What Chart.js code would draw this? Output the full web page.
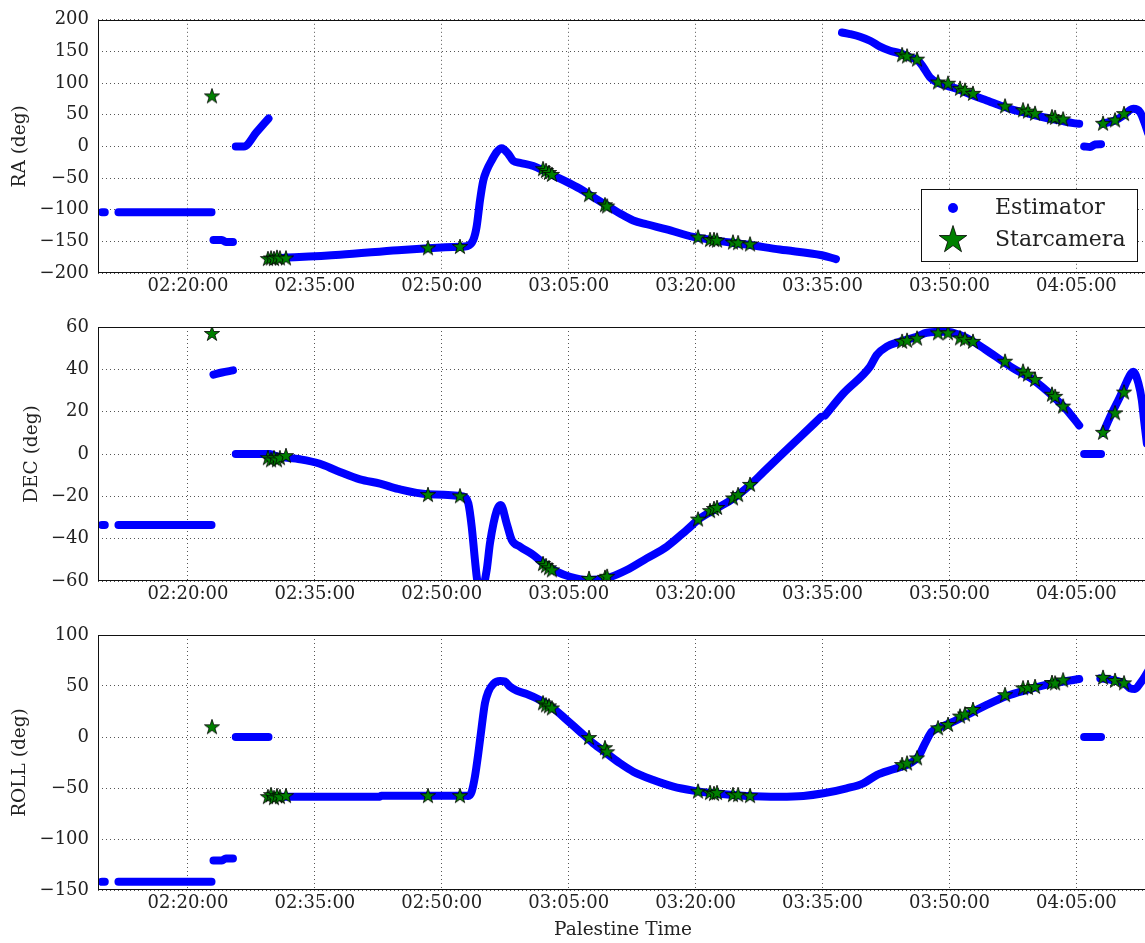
<!DOCTYPE html>
<html>
<head>
<meta charset="utf-8">
<script src="https://cdn.jsdelivr.net/npm/chart.js@4/dist/chart.umd.min.js"></script>
<style>
  html, body { margin: 0; padding: 0; background: #fff; overflow: hidden; }
  #stage { position: relative; width: 1145px; height: 943px; overflow: hidden; }
  #stage canvas { position: absolute; left: 0; }
</style>
</head>
<body>
<div id="stage">
  <canvas id="raChart" width="1150" height="303" style="top:0px;width:1150px;height:303px"></canvas>
  <canvas id="decChart" width="1150" height="308" style="top:303px;width:1150px;height:308px"></canvas>
  <canvas id="rollChart" width="1150" height="332" style="top:611px;width:1150px;height:332px"></canvas>
</div>
<script>
// ---- time axis ----
const xRange = ["02:09:22", "04:13:28"];
const xTickLabels = ["02:20:00", "02:35:00", "02:50:00", "03:05:00", "03:20:00", "03:35:00", "03:50:00", "04:05:00"];

// ---- y ticks per panel ----
const raTicks = [-200, -150, -100, -50, 0, 50, 100, 150, 200];
const decTicks = [-60, -40, -20, 0, 20, 40, 60];
const rollTicks = [-150, -100, -50, 0, 50, 100];

// ---- estimator, RA (null = break between track pieces) ----
const raEstTime = [
  "02:09:50", "02:10:10", null,
  "02:11:47", "02:22:47", null,
  "02:23:01", "02:24:01", "02:24:29", "02:25:19", null,
  "02:25:39", "02:26:37", "02:28:05", "02:29:31", null,
  "02:29:55", "02:37:58", "02:44:49", "02:48:22", "02:52:09", "02:53:01", "02:53:43", "02:54:07",
  "02:54:31", "02:54:54", "02:55:18", "02:55:54", "02:56:29", "02:57:05", "02:57:52", "02:58:27",
  "02:59:15", "03:00:49", "03:02:00", "03:03:11", "03:04:46", "03:06:20", "03:07:54", "03:09:29",
  "03:11:04", "03:12:38", "03:14:13", "03:16:35", "03:19:44", "03:22:05", "03:26:02", "03:29:58",
  "03:34:56", "03:36:35", null,
  "03:37:18", "03:38:15", "03:39:26", "03:40:37", "03:41:48", "03:42:59", "03:44:10", "03:45:20",
  "03:46:19", "03:46:55", "03:47:42", "03:48:30", "03:49:41", "03:51:15", "03:52:49", "03:54:24",
  "03:55:59", "03:57:33", "03:59:08", "04:01:06", "04:03:04", "04:04:39", "04:05:20", null,
  "04:05:55", "04:06:37", "04:07:12", "04:07:55", null,
  "04:08:05", "04:09:34", "04:10:33", "04:11:21", "04:11:44", "04:12:32", "04:13:02", "04:13:30"
];
const raEstValue = [
  -104, -104, null,
  -104, -104, null,
  -148, -148, -151, -151, null,
  0, 0, 22, 44, null,
  -177, -171, -164, -161, -158.6, -157.5, -148, -127,
  -85, -54, -38, -22, -9, -3, -12, -23,
  -26, -31, -38, -46, -56, -67, -80, -93,
  -106, -117, -123, -131, -143, -148, -155, -163,
  -172, -178, null,
  180, 177.4, 173.2, 166.9, 157.5, 151.2, 147, 140.7,
  135.4, 124.9, 109.1, 101.3, 96, 89.2, 80.3, 72.4,
  64.6, 57.8, 52.5, 46.1, 41, 36.7, 35.7, null,
  0, -1, 3, 3.5, null,
  36, 41, 48.8, 57.7, 59.3, 54, 38.3, 20
];

// ---- estimator, DEC ----
const decEstTime = [
  "02:09:50", "02:10:10", null,
  "02:11:47", "02:22:47", null,
  "02:23:01", "02:24:01", "02:25:19", null,
  "02:25:39", "02:29:42", "02:30:24", "02:33:14", "02:35:30", "02:37:40", "02:40:20", "02:42:42",
  "02:44:49", "02:48:22", "02:52:30", "02:53:08", "02:53:32", "02:53:55", "02:54:12", "02:54:45",
  "02:55:18", "02:55:42", "02:56:31", "02:56:58", "02:57:40", "02:58:16", "02:59:15", "03:00:49",
  "03:02:00", "03:03:35", "03:05:09", "03:07:08", "03:09:29", "03:11:51", "03:14:13", "03:16:35",
  "03:18:57", "03:20:31", "03:22:30", "03:24:27", "03:26:26", "03:28:00", "03:29:58", "03:32:20",
  "03:34:50", null,
  "03:35:18", "03:37:27", "03:40:37", "03:41:24", "03:42:35", "03:44:10", "03:46:08", "03:47:19",
  "03:49:41", "03:51:15", "03:52:49", "03:55:11", "03:57:33", "03:59:55", "04:02:17", "04:03:52",
  "04:05:20", null,
  "04:05:55", "04:07:55", null,
  "04:08:09", "04:09:11", "04:10:10", "04:10:57", "04:11:28", "04:11:44", "04:12:20", "04:12:44",
  "04:13:00", "04:13:20"
];
const decEstValue = [
  -33.5, -33.5, null,
  -33.5, -33.5, null,
  37.5, 38.5, 39.5, null,
  0, 0, -1, -2.5, -4.5, -8, -12, -14,
  -16.5, -19, -20, -23.3, -34.3, -50, -60, -64,
  -55, -42, -26.5, -24.1, -32.8, -40.6, -43.8, -47.7,
  -51.6, -55.6, -58, -59.5, -58.7, -54.8, -49.3, -43.8,
  -35.9, -30.4, -25.7, -21, -14.6, -8.6, -1, 8,
  17.5, null,
  18.2, 28.6, 41.3, 46.8, 50.7, 53.1, 55.4, 57.3,
  57.8, 56.2, 53.1, 46.8, 40.5, 35, 27.1, 20.8,
  13.5, null,
  0, 0, null,
  10, 19.2, 27.1, 34.2, 38.1, 38.9, 33.4, 25.5,
  16, 5
];

// ---- estimator, ROLL ----
const rollEstTime = [
  "02:09:50", "02:10:10", null,
  "02:11:47", "02:22:47", null,
  "02:23:01", "02:24:01", "02:24:29", "02:25:19", null,
  "02:25:39", "02:29:31", null,
  "02:29:55", "02:42:42", "02:42:50", "02:52:50", "02:53:08", "02:53:32", "02:53:55", "02:54:19",
  "02:54:43", "02:55:06", "02:55:30", "02:56:05", "02:56:53", "02:57:28", "02:58:04", "02:58:51",
  "03:00:02", "03:01:36", "03:03:11", "03:04:46", "03:06:20", "03:07:54", "03:09:29", "03:11:04",
  "03:12:38", "03:15:00", "03:17:22", "03:19:44", "03:22:05", "03:26:02", "03:29:58", "03:32:44",
  "03:35:06", "03:37:51", "03:39:49", "03:41:24", "03:43:22", "03:45:20", "03:46:19", "03:47:07",
  "03:47:54", "03:49:05", "03:50:28", "03:52:03", "03:54:24", "03:56:46", "03:59:08", "04:01:53",
  "04:04:39", "04:05:20", null,
  "04:05:55", "04:07:55", null,
  "04:07:50", "04:09:11", "04:10:45", "04:11:21", "04:11:56", "04:12:32", "04:13:02", "04:13:30"
];
const rollEstValue = [
  -142, -142, null,
  -142, -142, null,
  -121, -121, -119, -119, null,
  0, 0, null,
  -58.5, -58.5, -57.5, -57.5, -57.8, -53.6, -38.9, -16,
  10.1, 33, 44.4, 52, 54.9, 54.3, 49.3, 45.4,
  42.2, 36.3, 28.1, 16.7, 5.2, -6.2, -16, -25.8,
  -34, -42.2, -48.7, -52.6, -55.2, -57.8, -58.5, -57.8,
  -55.2, -50.3, -45.4, -37.3, -31.7, -25.8, -19.3, -6.2,
  5.2, 10.1, 15, 21.6, 31.4, 40.2, 46.1, 52,
  55.9, 56.9, null,
  0, 0, null,
  57.5, 55.9, 52, 47.7, 47, 52.6, 58.5, 65
];

// ---- star camera solutions (shared timestamps) ----
const starTime = [
  "02:22:50", "02:29:27", "02:29:49", "02:30:10", "02:30:31", "02:30:52", "02:31:35",
  "02:48:22", "02:52:09",
  "03:01:58", "03:02:19", "03:02:40", "03:03:01",
  "03:07:24", "03:09:17", "03:09:32",
  "03:20:17", "03:21:42", "03:22:10", "03:22:32", "03:24:25", "03:25:01", "03:26:26",
  "03:44:24", "03:44:59", "03:46:10",
  "03:48:39", "03:49:50", "03:51:15", "03:51:50", "03:52:47",
  "03:56:34", "03:58:42", "03:59:17", "04:00:07", "04:02:07", "04:02:29", "04:03:26",
  "04:08:09", "04:09:34", "04:10:38"
];
const raStar = [
  79, -178, -177, -178, -176, -177, -177,
  -161, -159,
  -36, -39, -42, -45,
  -77, -93, -95,
  -144, -148, -148, -149, -152, -153, -155,
  144, 142, 137,
  101, 99, 91, 88, 83,
  63, 57, 55, 51.5, 46, 45, 42.5,
  35.7, 41, 51
];
const decStar = [
  56.7, -2, -3, -2, -3, -2, -1,
  -19.4, -20,
  -52, -53, -54, -55,
  -59, -58.5, -58,
  -31, -27, -26, -25.5, -21, -19.4, -14.6,
  53, 53.5, 54.5,
  57, 57, 54.6, 54, 53,
  43.6, 38.9, 37.5, 35, 28, 27, 22.4,
  10, 19.2, 29
];
const rollStar = [
  9.5, -59, -57, -60, -58, -59, -58,
  -58, -58,
  33, 31, 30, 28,
  -1, -11, -15,
  -53.6, -55, -56, -55, -57, -57, -58,
  -27.5, -26, -21,
  8.5, 11.8, 20, 22, 26.5,
  41, 47.7, 48, 49, 53, 52.5, 55.5,
  58, 55, 52.6
];

// ---- helpers ----
const SERIF = "'DejaVu Serif', 'Liberation Serif', serif";
const TEXT = '#222';

function toMin(s) {
  const p = s.split(':').map(Number);
  return p[0] * 60 + p[1] + p[2] / 60;
}
function clock(v) {
  const t = Math.round(v * 60);
  const h = Math.floor(t / 3600), m = Math.floor((t % 3600) / 60), s = t % 60;
  return [h, m, s].map(n => String(n).padStart(2, '0')).join(':');
}
function series(times, values) {
  return times.map((t, i) => t === null ? { x: null, y: null } : { x: toMin(t), y: values[i] });
}
function traceStar(g, cx, cy, r) {
  const ri = r * 0.381966;
  g.beginPath();
  for (let k = 0; k < 10; k++) {
    const a = -Math.PI / 2 + k * Math.PI / 5;
    const rr = k % 2 ? ri : r;
    g.lineTo(cx + rr * Math.cos(a), cy + rr * Math.sin(a));
  }
  g.closePath();
  g.fillStyle = '#008000';
  g.fill();
  g.lineWidth = 0.8;
  g.strokeStyle = '#000';
  g.stroke();
}
function starSprite(r) {
  const size = Math.ceil(2 * r + 4);
  const c = document.createElement('canvas');
  c.width = size; c.height = size;
  traceStar(c.getContext('2d'), size / 2, size / 2, r);
  return c;
}
const starMarker = starSprite(8);

// axes frame (all four spines)
const framePlugin = {
  id: 'frame',
  afterDatasetsDraw(chart) {
    const { ctx, chartArea: a } = chart;
    ctx.save();
    ctx.strokeStyle = '#111';
    ctx.lineWidth = 1;
    ctx.strokeRect(Math.round(a.left) + 0.5, Math.round(a.top) + 0.5,
                   Math.round(a.right - a.left) - 1, Math.round(a.bottom - a.top) - 1);
    ctx.restore();
  }
};

// boxed legend inside the RA panel
const legendPlugin = {
  id: 'boxLegend',
  afterDraw(chart) {
    const ctx = chart.ctx;
    const labels = chart.data.datasets.map(d => d.label);
    ctx.save();
    ctx.fillStyle = '#fff';
    ctx.fillRect(921, 189, 217, 73);
    ctx.strokeStyle = '#111';
    ctx.lineWidth = 1;
    ctx.strokeRect(921.5, 189.5, 216, 72);
    ctx.beginPath();
    ctx.arc(953, 208, 5, 0, Math.PI * 2);
    ctx.fillStyle = '#0000ff';
    ctx.fill();
    traceStar(ctx, 953, 240, 14.5);
    ctx.fillStyle = TEXT;
    ctx.font = "22px " + SERIF;
    ctx.textBaseline = 'middle';
    ctx.fillText(labels[0], 995, 208);
    ctx.fillText(labels[1], 995, 240);
    ctx.restore();
  }
};

function makePanel(id, cfg) {
  const plugins = [framePlugin];
  if (cfg.legend) plugins.push(legendPlugin);
  return new Chart(document.getElementById(id), {
    type: 'scatter',
    data: {
      datasets: [
        {
          type: 'line',
          label: 'Estimator',
          data: series(cfg.estTime, cfg.estValue),
          borderColor: '#0000ff',
          backgroundColor: '#0000ff',
          borderWidth: 8,
          borderCapStyle: 'round',
          borderJoinStyle: 'round',
          pointRadius: 0,
          cubicInterpolationMode: 'monotone',
          spanGaps: false,
          fill: false,
          clip: 0,
          order: 1
        },
        {
          type: 'scatter',
          label: 'Starcamera',
          data: series(starTime, cfg.starValue),
          pointStyle: starMarker,
          pointRadius: 8,
          showLine: false,
          clip: 0,
          order: 0
        }
      ]
    },
    options: {
      responsive: false,
      animation: false,
      events: [],
      devicePixelRatio: 1,
      layout: { autoPadding: false, padding: { top: cfg.padTop, right: 2, left: 0, bottom: 0 } },
      plugins: { legend: { display: false }, tooltip: { enabled: false } },
      scales: {
        x: {
          type: 'linear',
          min: toMin(xRange[0]),
          max: toMin(xRange[1]),
          afterBuildTicks: s => { s.ticks = xTickLabels.map(t => ({ value: toMin(t) })); },
          afterFit: s => { s.height = cfg.xHeight; s.paddingLeft = 0; s.paddingRight = 0; },
          ticks: {
            callback: v => clock(v),
            font: { family: SERIF, size: 18 },
            color: TEXT,
            padding: 3,
            maxRotation: 0,
            autoSkip: false
          },
          grid: { drawTicks: false, color: '#555', lineWidth: 1 },
          border: { display: false, dash: [1, 3] },
          title: cfg.xTitle ? {
            display: true,
            text: cfg.xTitle,
            font: { family: SERIF, size: 18.5 },
            color: TEXT,
            padding: { top: 0, bottom: 2 }
          } : { display: false }
        },
        y: {
          type: 'linear',
          min: cfg.ticks[0],
          max: cfg.ticks[cfg.ticks.length - 1],
          afterBuildTicks: s => { s.ticks = cfg.ticks.map(v => ({ value: v })); },
          afterFit: s => { s.width = 98; },
          ticks: {
            callback: v => String(v).replace('-', '\u2212'),
            font: { family: SERIF, size: 18 },
            color: TEXT,
            padding: 9
          },
          grid: { drawTicks: false, color: '#555', lineWidth: 1 },
          border: { display: false, dash: [1, 3] },
          title: {
            display: true,
            text: cfg.yTitle,
            font: { family: SERIF, size: 18.5 },
            color: TEXT,
            padding: { top: cfg.yTitlePad, bottom: 0 }
          }
        }
      }
    },
    plugins
  });
}

makePanel('raChart', {
  estTime: raEstTime, estValue: raEstValue, starValue: raStar,
  ticks: raTicks, yTitle: 'RA (deg)', yTitlePad: 9,
  padTop: 19, xHeight: 30, legend: true
});
makePanel('decChart', {
  estTime: decEstTime, estValue: decEstValue, starValue: decStar,
  ticks: decTicks, yTitle: 'DEC (deg)', yTitlePad: 21,
  padTop: 24, xHeight: 30
});
makePanel('rollChart', {
  estTime: rollEstTime, estValue: rollEstValue, starValue: rollStar,
  ticks: rollTicks, yTitle: 'ROLL (deg)', yTitlePad: 9,
  padTop: 24, xHeight: 53, xTitle: 'Palestine Time'
});
</script>
</body>
</html>
